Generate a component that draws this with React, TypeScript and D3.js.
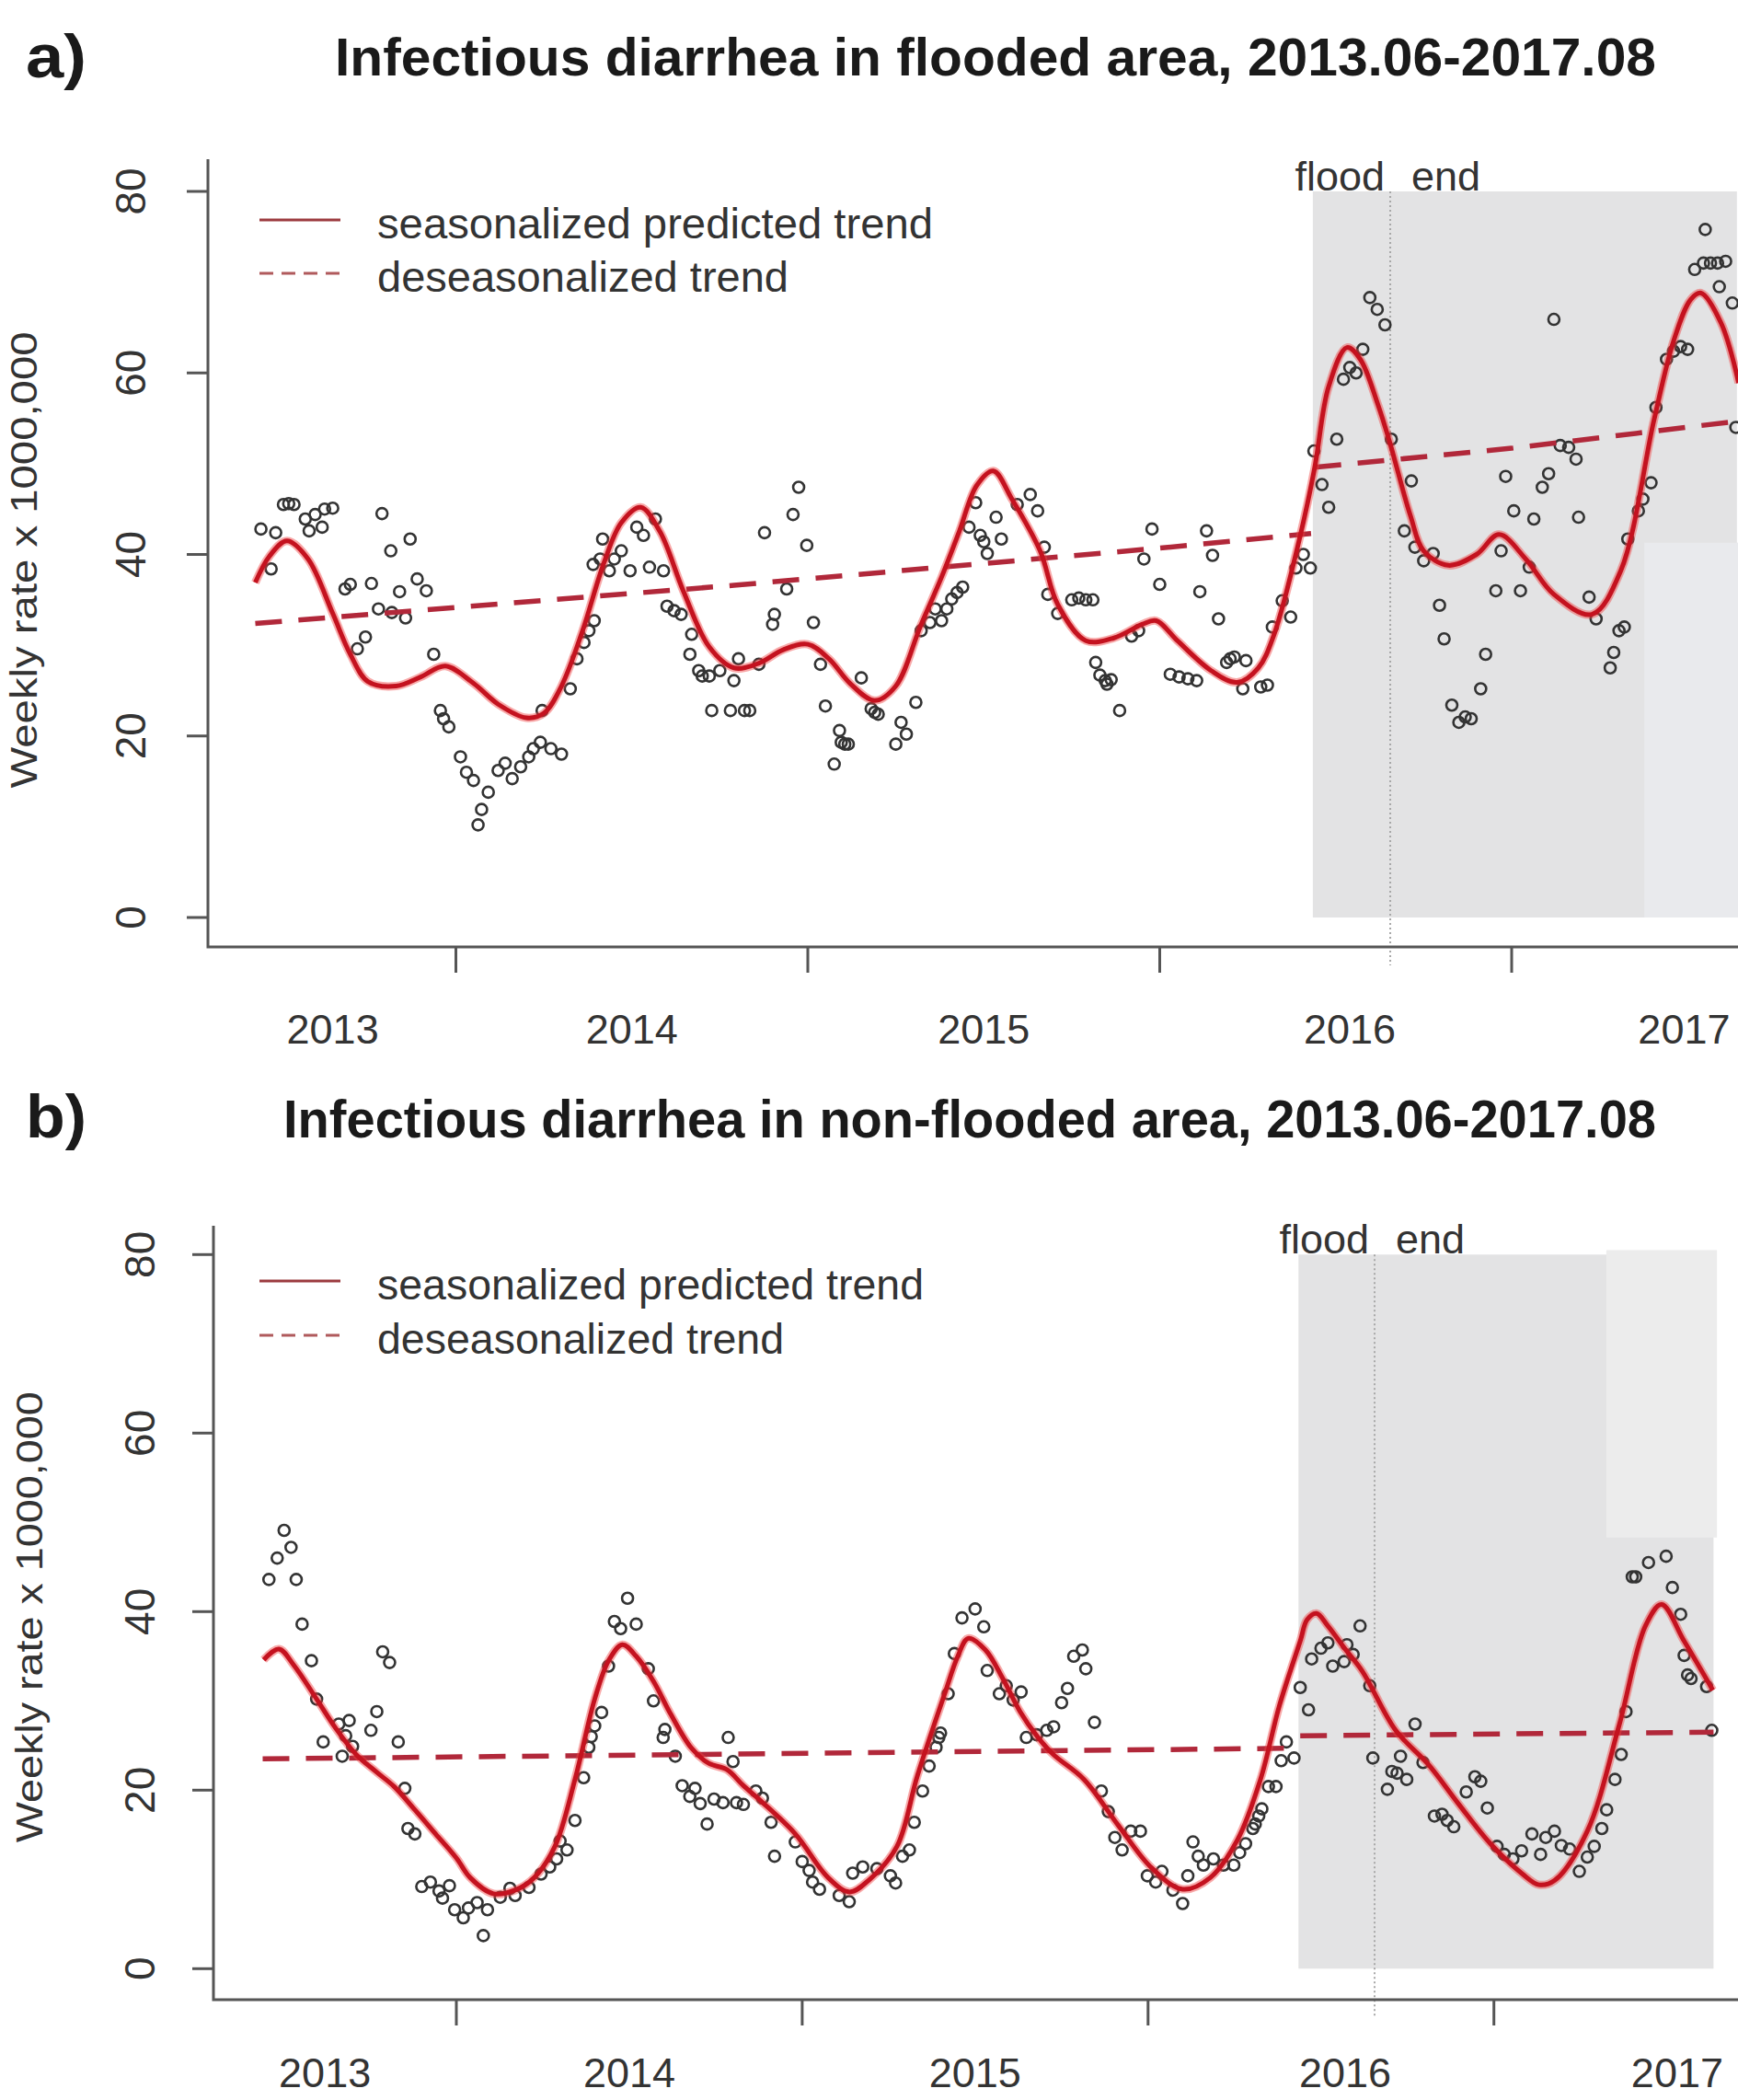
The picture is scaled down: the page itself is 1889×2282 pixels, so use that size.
import * as d3 from "d3";

type Pt = [number, number];

// axes
const yTicks = [0, 20, 40, 60, 80];
const yearTicks = [2014, 2015, 2016, 2017];
const yearLabels = ["2013", "2014", "2015", "2016", "2017"];
const floodedLabelAt = [2013.65, 2014.5, 2015.5, 2016.54, 2017.49];
const nonFloodedLabelAt = [2013.62, 2014.5, 2015.5, 2016.57, 2017.53];
const legendLabels = ["seasonalized predicted trend", "deseasonalized trend"];

// flood window, decimal years
const floodStart = 2016.435;
const floodEnd = 2016.655;
const floodedLast = 2017.64;
const nonFloodedLast = 2017.635;

// lighter patches left in the scanned figure: [from, to, top, bottom]
const floodedPatch = [2017.377, 2017.66, 41.3, 0];
const nonFloodedPatch = [2017.325, 2017.645, 80.5, 48.3];

// a) flooded area, weekly rate
const floodedObs: Pt[] = [
  [2013.446, 42.8], [2013.475, 38.4], [2013.488, 42.4], [2013.51, 45.5], [2013.525, 45.6], [2013.54, 45.5],
  [2013.572, 43.9], [2013.583, 42.6], [2013.6, 44.4], [2013.62, 43.0], [2013.627, 45.0], [2013.65, 45.1],
  [2013.685, 36.2], [2013.7, 36.7], [2013.72, 29.6], [2013.743, 30.9], [2013.76, 36.8], [2013.78, 34.0],
  [2013.79, 44.5], [2013.815, 40.4], [2013.818, 33.6], [2013.84, 35.9], [2013.857, 33.0], [2013.87, 41.7],
  [2013.89, 37.3], [2013.916, 36.0], [2013.937, 29.0], [2013.956, 22.8], [2013.965, 21.9], [2013.98, 21.0],
  [2014.013, 17.7], [2014.03, 16.0], [2014.05, 15.1], [2014.063, 10.2], [2014.073, 11.9], [2014.092, 13.8],
  [2014.12, 16.2], [2014.14, 17.0], [2014.16, 15.3], [2014.184, 16.6], [2014.207, 17.7], [2014.22, 18.6],
  [2014.24, 19.3], [2014.245, 22.8], [2014.27, 18.6], [2014.3, 18.0], [2014.325, 25.2], [2014.344, 28.5],
  [2014.364, 30.3], [2014.378, 31.6], [2014.393, 32.7], [2014.39, 38.9], [2014.41, 39.5], [2014.417, 41.7],
  [2014.436, 38.2], [2014.45, 39.5], [2014.47, 40.4], [2014.495, 38.2], [2014.514, 43.0], [2014.533, 42.1],
  [2014.55, 38.6], [2014.567, 43.9], [2014.59, 38.2], [2014.6, 34.3], [2014.62, 33.8], [2014.64, 33.4],
  [2014.665, 29.0], [2014.67, 31.2], [2014.69, 27.2], [2014.7, 26.6], [2014.72, 26.6], [2014.727, 22.8],
  [2014.75, 27.2], [2014.78, 22.8], [2014.79, 26.1], [2014.803, 28.5], [2014.82, 22.8], [2014.835, 22.8],
  [2014.861, 27.9], [2014.877, 42.4], [2014.9, 32.3], [2014.905, 33.4], [2014.94, 36.2], [2014.958, 44.4],
  [2014.974, 47.4], [2014.997, 41.0], [2015.016, 32.5], [2015.036, 27.9], [2015.05, 23.3], [2015.075, 16.9],
  [2015.09, 20.6], [2015.095, 19.3], [2015.105, 19.1], [2015.115, 19.1], [2015.152, 26.4], [2015.18, 23.0],
  [2015.19, 22.6], [2015.2, 22.4], [2015.25, 19.1], [2015.265, 21.5], [2015.28, 20.2], [2015.307, 23.7],
  [2015.322, 31.6], [2015.347, 32.5], [2015.362, 34.0], [2015.38, 32.7], [2015.395, 34.0], [2015.409, 35.1],
  [2015.424, 35.8], [2015.44, 36.4], [2015.458, 43.0], [2015.477, 45.7], [2015.49, 42.1], [2015.5, 41.4],
  [2015.51, 40.1], [2015.535, 44.1], [2015.55, 41.7], [2015.595, 45.5], [2015.632, 46.6], [2015.653, 44.8],
  [2015.672, 40.8], [2015.682, 35.6], [2015.71, 33.5], [2015.75, 35.0], [2015.77, 35.2], [2015.79, 35.0],
  [2015.81, 35.0], [2015.818, 28.1], [2015.83, 26.7], [2015.845, 26.1], [2015.85, 25.7], [2015.862, 26.2],
  [2015.886, 22.8], [2015.92, 31.0], [2015.94, 31.6], [2015.955, 39.5], [2015.978, 42.8], [2016.0, 36.7],
  [2016.03, 26.8], [2016.055, 26.5], [2016.08, 26.3], [2016.105, 26.1], [2016.114, 35.9], [2016.133, 42.6],
  [2016.15, 39.9], [2016.167, 32.9], [2016.19, 28.1], [2016.2, 28.5], [2016.212, 28.7], [2016.236, 25.2],
  [2016.245, 28.3], [2016.287, 25.4], [2016.306, 25.6], [2016.32, 32.0], [2016.348, 34.9], [2016.372, 33.1],
  [2016.387, 38.5], [2016.408, 40.0], [2016.428, 38.5], [2016.438, 51.4], [2016.461, 47.7], [2016.48, 45.2],
  [2016.503, 52.7], [2016.522, 59.3], [2016.54, 60.6], [2016.558, 60.0], [2016.577, 62.6], [2016.597, 68.3],
  [2016.618, 67.0], [2016.64, 65.3], [2016.658, 52.7], [2016.695, 42.6], [2016.715, 48.1], [2016.725, 40.8],
  [2016.75, 39.3], [2016.777, 40.1], [2016.795, 34.4], [2016.808, 30.7], [2016.83, 23.4], [2016.85, 21.5],
  [2016.868, 22.1], [2016.885, 21.9], [2016.912, 25.2], [2016.926, 29.0], [2016.955, 36.0], [2016.97, 40.4],
  [2016.983, 48.6], [2017.006, 44.8], [2017.025, 36.0], [2017.05, 38.6], [2017.063, 43.9], [2017.087, 47.4],
  [2017.105, 48.9], [2017.12, 65.9], [2017.138, 52.0], [2017.162, 51.8], [2017.183, 50.5], [2017.19, 44.1],
  [2017.22, 35.3], [2017.24, 32.9], [2017.28, 27.5], [2017.29, 29.2], [2017.305, 31.6], [2017.32, 32.0],
  [2017.33, 41.7], [2017.36, 44.8], [2017.373, 46.1], [2017.396, 47.9], [2017.41, 56.2], [2017.44, 61.5],
  [2017.46, 62.4], [2017.48, 62.9], [2017.5, 62.6], [2017.52, 71.4], [2017.55, 75.8], [2017.545, 72.1],
  [2017.565, 72.1], [2017.585, 72.1], [2017.59, 69.5], [2017.608, 72.3], [2017.627, 67.7], [2017.637, 54.0],
];

const floodedSeasonal: Pt[] = [
  [2013.43, 36.9], [2013.47, 39.8], [2013.52, 41.5], [2013.58, 39.5], [2013.65, 33.5], [2013.7, 29.0],
  [2013.75, 26.0], [2013.83, 25.5], [2013.9, 26.5], [2013.97, 27.7], [2014.05, 25.8], [2014.12, 23.5],
  [2014.2, 22.0], [2014.25, 22.5], [2014.3, 25.5], [2014.36, 31.6], [2014.42, 39.0], [2014.47, 43.5],
  [2014.525, 45.2], [2014.58, 42.5], [2014.646, 36.0], [2014.72, 29.8], [2014.79, 27.5], [2014.86, 28.0],
  [2014.93, 29.5], [2015.0, 30.1], [2015.06, 28.5], [2015.12, 25.8], [2015.19, 23.9], [2015.25, 25.5],
  [2015.32, 32.1], [2015.38, 37.5], [2015.43, 42.5], [2015.48, 47.6], [2015.527, 49.2], [2015.58, 46.1],
  [2015.66, 40.4], [2015.71, 34.5], [2015.79, 30.5], [2015.87, 30.8], [2015.95, 32.3], [2015.99, 32.7],
  [2016.05, 30.5], [2016.146, 27.2], [2016.22, 25.9], [2016.28, 27.5], [2016.325, 31.2], [2016.4, 42.2],
  [2016.44, 49.5], [2016.48, 58.5], [2016.532, 62.8], [2016.57, 61.5], [2016.62, 56.5], [2016.654, 52.3],
  [2016.712, 44.3], [2016.75, 40.4], [2016.82, 38.8], [2016.9, 40.0], [2016.964, 42.2], [2017.04, 39.5],
  [2017.12, 35.6], [2017.228, 33.4], [2017.31, 38.2], [2017.405, 54.9], [2017.46, 63.5], [2017.509, 68.1],
  [2017.538, 68.8], [2017.595, 65.5], [2017.645, 58.9],
];

const floodedTrendBefore: Pt[] = [[2013.43, 32.4], [2014.79, 36.6], [2016.0, 40.7], [2016.43, 42.3]];
const floodedTrendAfter: Pt[] = [[2016.44, 49.6], [2017.0, 51.7], [2017.645, 54.7]];

// b) non-flooded area, weekly rate
const nonFloodedObs: Pt[] = [
  [2013.458, 43.6], [2013.482, 46.0], [2013.502, 49.1], [2013.522, 47.2], [2013.537, 43.6], [2013.554, 38.6],
  [2013.581, 34.5], [2013.596, 30.2], [2013.615, 25.4], [2013.66, 27.4], [2013.67, 23.8], [2013.68, 26.1],
  [2013.69, 27.8], [2013.7, 24.9], [2013.753, 26.7], [2013.77, 28.8], [2013.787, 35.5], [2013.807, 34.3],
  [2013.832, 25.4], [2013.851, 20.2], [2013.86, 15.7], [2013.88, 15.1], [2013.9, 9.2], [2013.925, 9.7],
  [2013.95, 8.7], [2013.98, 9.3], [2013.96, 7.9], [2013.995, 6.6], [2014.02, 5.7], [2014.035, 6.8],
  [2014.06, 7.4], [2014.078, 3.7], [2014.09, 6.6], [2014.127, 8.0], [2014.155, 9.0], [2014.17, 8.2],
  [2014.21, 9.1], [2014.245, 10.6], [2014.27, 11.4], [2014.29, 12.3], [2014.3, 14.3], [2014.32, 13.3],
  [2014.343, 16.6], [2014.368, 21.4], [2014.383, 24.8], [2014.39, 26.0], [2014.4, 27.2], [2014.42, 28.7],
  [2014.44, 33.9], [2014.457, 38.9], [2014.475, 38.1], [2014.495, 41.5], [2014.52, 38.6], [2014.555, 33.6],
  [2014.57, 30.0], [2014.598, 25.9], [2014.603, 26.8], [2014.633, 23.8], [2014.653, 20.5], [2014.675, 19.3],
  [2014.69, 20.2], [2014.705, 18.5], [2014.725, 16.2], [2014.745, 19.0], [2014.771, 18.6], [2014.786, 25.9],
  [2014.8, 23.2], [2014.81, 18.6], [2014.83, 18.4], [2014.866, 19.9], [2014.885, 19.1], [2014.91, 16.4],
  [2014.92, 12.6], [2014.98, 14.2], [2015.0, 12.0], [2015.02, 11.0], [2015.03, 9.7], [2015.05, 8.9],
  [2015.107, 8.2], [2015.136, 7.5], [2015.146, 10.7], [2015.175, 11.4], [2015.216, 11.2], [2015.255, 10.4],
  [2015.27, 9.6], [2015.29, 12.6], [2015.31, 13.3], [2015.324, 16.4], [2015.348, 19.9], [2015.367, 22.7],
  [2015.387, 24.8], [2015.395, 25.9], [2015.4, 26.4], [2015.422, 30.8], [2015.44, 35.3], [2015.462, 39.3],
  [2015.5, 40.3], [2015.525, 38.3], [2015.535, 33.4], [2015.57, 30.8], [2015.59, 31.7], [2015.61, 30.1],
  [2015.633, 31.0], [2015.648, 25.9], [2015.678, 26.2], [2015.707, 26.7], [2015.727, 27.1], [2015.75, 29.8],
  [2015.767, 31.4], [2015.785, 35.0], [2015.81, 35.7], [2015.82, 33.6], [2015.845, 27.6], [2015.865, 19.9],
  [2015.885, 17.6], [2015.904, 14.7], [2015.925, 13.3], [2015.95, 15.4], [2015.978, 15.4], [2015.998, 10.4],
  [2016.022, 9.7], [2016.04, 10.9], [2016.072, 8.8], [2016.1, 7.3], [2016.115, 10.4], [2016.13, 14.2],
  [2016.145, 12.6], [2016.16, 11.6], [2016.189, 12.3], [2016.218, 11.6], [2016.248, 11.6], [2016.265, 13.0],
  [2016.282, 14.0], [2016.303, 15.7], [2016.31, 16.2], [2016.32, 17.1], [2016.329, 17.9], [2016.348, 20.4],
  [2016.37, 20.4], [2016.385, 23.3], [2016.4, 25.4], [2016.422, 23.6], [2016.44, 31.5], [2016.464, 29.0],
  [2016.473, 34.7], [2016.5, 35.9], [2016.52, 36.5], [2016.534, 33.9], [2016.567, 34.4], [2016.575, 36.3],
  [2016.593, 35.2], [2016.613, 38.4], [2016.641, 31.7], [2016.65, 23.6], [2016.692, 20.1], [2016.705, 22.1],
  [2016.72, 21.9], [2016.73, 23.8], [2016.748, 21.2], [2016.772, 27.4], [2016.795, 23.1], [2016.828, 17.1],
  [2016.85, 17.3], [2016.865, 16.6], [2016.884, 15.9], [2016.92, 19.8], [2016.945, 21.5], [2016.962, 21.0],
  [2016.981, 18.0], [2017.009, 13.7], [2017.03, 12.8], [2017.055, 12.3], [2017.08, 13.2], [2017.11, 15.1],
  [2017.135, 12.8], [2017.15, 14.7], [2017.175, 15.4], [2017.195, 13.8], [2017.219, 13.4], [2017.247, 10.9],
  [2017.27, 12.5], [2017.29, 13.7], [2017.312, 15.7], [2017.326, 17.8], [2017.35, 21.2], [2017.368, 24.0],
  [2017.382, 28.8], [2017.4, 43.9], [2017.41, 43.9], [2017.447, 45.5], [2017.498, 46.2], [2017.516, 42.7],
  [2017.54, 39.7], [2017.55, 35.1], [2017.56, 32.9], [2017.57, 32.5], [2017.615, 31.6], [2017.63, 26.7],
];

const nonFloodedSeasonal: Pt[] = [
  [2013.443, 34.6], [2013.487, 35.8], [2013.53, 34.0], [2013.596, 30.2], [2013.65, 27.0], [2013.71, 24.0],
  [2013.77, 22.0], [2013.82, 20.4], [2013.88, 17.8], [2013.94, 15.1], [2014.0, 12.4], [2014.04, 10.2],
  [2014.107, 8.4], [2014.17, 8.8], [2014.225, 10.2], [2014.285, 13.7], [2014.343, 21.2], [2014.4, 30.2],
  [2014.44, 34.5], [2014.48, 36.3], [2014.52, 35.0], [2014.57, 32.2], [2014.62, 28.5], [2014.68, 24.7],
  [2014.73, 23.0], [2014.782, 22.3], [2014.83, 20.5], [2014.88, 18.8], [2014.98, 15.1], [2015.075, 10.2],
  [2015.137, 8.6], [2015.195, 10.0], [2015.274, 13.7], [2015.333, 21.6], [2015.412, 30.8], [2015.45, 35.0],
  [2015.48, 37.0], [2015.53, 35.7], [2015.58, 32.5], [2015.63, 28.8], [2015.68, 26.0], [2015.726, 24.0],
  [2015.815, 21.2], [2015.913, 16.1], [2016.01, 11.3], [2016.1, 8.9], [2016.18, 10.2], [2016.258, 14.4],
  [2016.325, 21.2], [2016.38, 29.5], [2016.44, 36.7], [2016.46, 39.1], [2016.487, 39.8], [2016.52, 38.4],
  [2016.57, 35.8], [2016.62, 33.3], [2016.716, 26.7], [2016.81, 22.9], [2016.897, 18.5], [2016.99, 14.0],
  [2017.083, 10.6], [2017.13, 9.4], [2017.176, 9.9], [2017.27, 15.4], [2017.363, 27.4], [2017.438, 38.4],
  [2017.485, 40.8], [2017.55, 36.7], [2017.633, 31.2],
];

const nonFloodedTrendBefore: Pt[] = [[2013.44, 23.5], [2016.43, 24.7]];
const nonFloodedTrendAfter: Pt[] = [[2016.44, 26.1], [2017.635, 26.5]];

const RED = "#c4121f";
const TREND = "#b1283a";
const FONT = "'Liberation Sans', Arial, Helvetica, sans-serif";

type PanelProps = {
  obs: Pt[];
  seasonal: Pt[];
  trendBefore: Pt[];
  trendAfter: Pt[];
  last: number;
  patch: number[];
  patchColor: string;
  labelAt: number[];
  xPx: [number, number];
  yPx: [number, number];
  boxLeft: number;
  boxTop: number;
  boxBottom: number;
  tickLabelY: number;
  yLabelX: number;
  yTitleX: number;
  yTitleLen: number;
  legendY: [number, number];
  legendLen: [number, number];
};

function Panel(p: PanelProps) {
  const x = d3.scaleLinear().domain([2014, 2017]).range(p.xPx);
  const y = d3.scaleLinear().domain([0, 80]).range(p.yPx);
  const smooth = d3
    .line<Pt>()
    .x((d) => x(d[0]))
    .y((d) => y(d[1]))
    .curve(d3.curveCatmullRom.alpha(0.5));
  const straight = d3
    .line<Pt>()
    .x((d) => x(d[0]))
    .y((d) => y(d[1]));
  const xEnd = 1889;
  const seasonalPath = smooth(p.seasonal) ?? "";

  return (
    <g>
      {/* flood period shading */}
      <rect
        x={x(floodStart)}
        y={y(80)}
        width={x(p.last) - x(floodStart)}
        height={y(0) - y(80)}
        fill="#e3e3e4"
      />
      <rect
        x={x(p.patch[0])}
        y={y(p.patch[2])}
        width={x(p.patch[1]) - x(p.patch[0])}
        height={y(p.patch[3]) - y(p.patch[2])}
        fill={p.patchColor}
      />
      <line
        x1={x(floodEnd)}
        x2={x(floodEnd)}
        y1={y(80)}
        y2={p.boxBottom + 20}
        stroke="#a8a8a8"
        strokeWidth={2}
        strokeDasharray="2 3"
      />
      <text x={x(floodEnd) - 6} y={y(80) - 1} fontSize={45} textAnchor="end" fill="#333">
        flood
      </text>
      <text x={x(floodEnd) + 23} y={y(80) - 1} fontSize={45} fill="#333">
        end
      </text>

      {/* box */}
      <path
        d={`M${p.boxLeft},${p.boxTop}V${p.boxBottom}H${xEnd}`}
        fill="none"
        stroke="#555"
        strokeWidth={3}
      />
      {yTicks.map((t) => (
        <g key={`y${t}`}>
          <line x1={p.boxLeft - 23} x2={p.boxLeft} y1={y(t)} y2={y(t)} stroke="#555" strokeWidth={3} />
          <text
            transform={`translate(${p.yLabelX},${y(t)}) rotate(-90)`}
            fontSize={46}
            textAnchor="middle"
            fill="#333"
          >
            {t}
          </text>
        </g>
      ))}
      {yearTicks.map((t) => (
        <line
          key={`x${t}`}
          x1={x(t)}
          x2={x(t)}
          y1={p.boxBottom}
          y2={p.boxBottom + 28}
          stroke="#555"
          strokeWidth={3}
        />
      ))}
      {yearLabels.map((lab, i) => (
        <text
          key={lab}
          x={x(p.labelAt[i])}
          y={p.tickLabelY}
          fontSize={45}
          textAnchor="middle"
          fill="#333"
        >
          {lab}
        </text>
      ))}
      <text
        transform={`translate(${p.yTitleX},${(y(0) + y(80)) / 2 + 6}) rotate(-90)`}
        fontSize={41}
        textAnchor="middle"
        fill="#333"
        textLength={p.yTitleLen}
        lengthAdjust="spacingAndGlyphs"
      >
        Weekly rate x 1000,000
      </text>

      {/* observations */}
      {p.obs.map((d, i) => (
        <circle
          key={i}
          cx={x(d[0])}
          cy={y(d[1])}
          r={6}
          fill="none"
          stroke="#333"
          strokeWidth={2.6}
        />
      ))}

      {/* trends */}
      {[p.trendBefore, p.trendAfter].map((seg, i) => (
        <path
          key={`t${i}`}
          d={straight(seg) ?? ""}
          fill="none"
          stroke={TREND}
          strokeWidth={5.5}
          strokeDasharray="29 18"
        />
      ))}
      <path d={seasonalPath} fill="none" stroke="#f04040" strokeOpacity={0.45} strokeWidth={9} />
      <path d={seasonalPath} fill="none" stroke={RED} strokeWidth={5} />

      {/* legend */}
      <line x1={282} x2={370} y1={p.legendY[0] - 20} y2={p.legendY[0] - 20} stroke="#9c3b3f" strokeWidth={3} />
      <line
        x1={282}
        x2={370}
        y1={p.legendY[1] - 20}
        y2={p.legendY[1] - 20}
        stroke="#b05a5c"
        strokeWidth={3}
        strokeDasharray="15 9"
      />
      {legendLabels.map((lab, i) => (
        <text
          key={lab}
          x={410}
          y={p.legendY[i]}
          fontSize={46}
          fill="#333"
          textLength={p.legendLen[i]}
          lengthAdjust="spacingAndGlyphs"
        >
          {lab}
        </text>
      ))}
    </g>
  );
}

export default function App() {
  return (
    <svg
      width={1889}
      height={2282}
      style={{ position: "absolute", left: 0, top: 0, background: "#fff" }}
      fontFamily={FONT}
    >
      <rect width={1889} height={2282} fill="#fff" />
      <text x={28} y={84} fontSize={66} fontWeight="bold" fill="#1a1a1a" textLength={66} lengthAdjust="spacingAndGlyphs">
        a)
      </text>
      <text
        x={364}
        y={82}
        fontSize={58}
        fontWeight="bold"
        fill="#1a1a1a"
        textLength={1436}
        lengthAdjust="spacingAndGlyphs"
      >
        Infectious diarrhea in flooded area, 2013.06-2017.08
      </text>
      <Panel
        obs={floodedObs}
        seasonal={floodedSeasonal}
        trendBefore={floodedTrendBefore}
        trendAfter={floodedTrendAfter}
        last={floodedLast}
        patch={floodedPatch}
        patchColor="#e9eaed"
        labelAt={floodedLabelAt}
        xPx={[495.5, 1643]}
        yPx={[997, 208]}
        boxLeft={226}
        boxTop={173}
        boxBottom={1029}
        tickLabelY={1134}
        yLabelX={158}
        yTitleX={40}
        yTitleLen={496}
        legendY={[259, 317]}
        legendLen={[604, 447]}
      />

      <text x={28} y={1236} fontSize={66} fontWeight="bold" fill="#1a1a1a" textLength={66} lengthAdjust="spacingAndGlyphs">
        b)
      </text>
      <text
        x={308}
        y={1236}
        fontSize={58}
        fontWeight="bold"
        fill="#1a1a1a"
        textLength={1492}
        lengthAdjust="spacingAndGlyphs"
      >
        Infectious diarrhea in non-flooded area, 2013.06-2017.08
      </text>
      <Panel
        obs={nonFloodedObs}
        seasonal={nonFloodedSeasonal}
        trendBefore={nonFloodedTrendBefore}
        trendAfter={nonFloodedTrendAfter}
        last={nonFloodedLast}
        patch={nonFloodedPatch}
        patchColor="#ececec"
        labelAt={nonFloodedLabelAt}
        xPx={[496, 1623.7]}
        yPx={[2139.3, 1363.3]}
        boxLeft={232}
        boxTop={1332}
        boxBottom={2173}
        tickLabelY={2268}
        yLabelX={168}
        yTitleX={46}
        yTitleLen={490}
        legendY={[1412, 1471]}
        legendLen={[594, 442]}
      />
    </svg>
  );
}
